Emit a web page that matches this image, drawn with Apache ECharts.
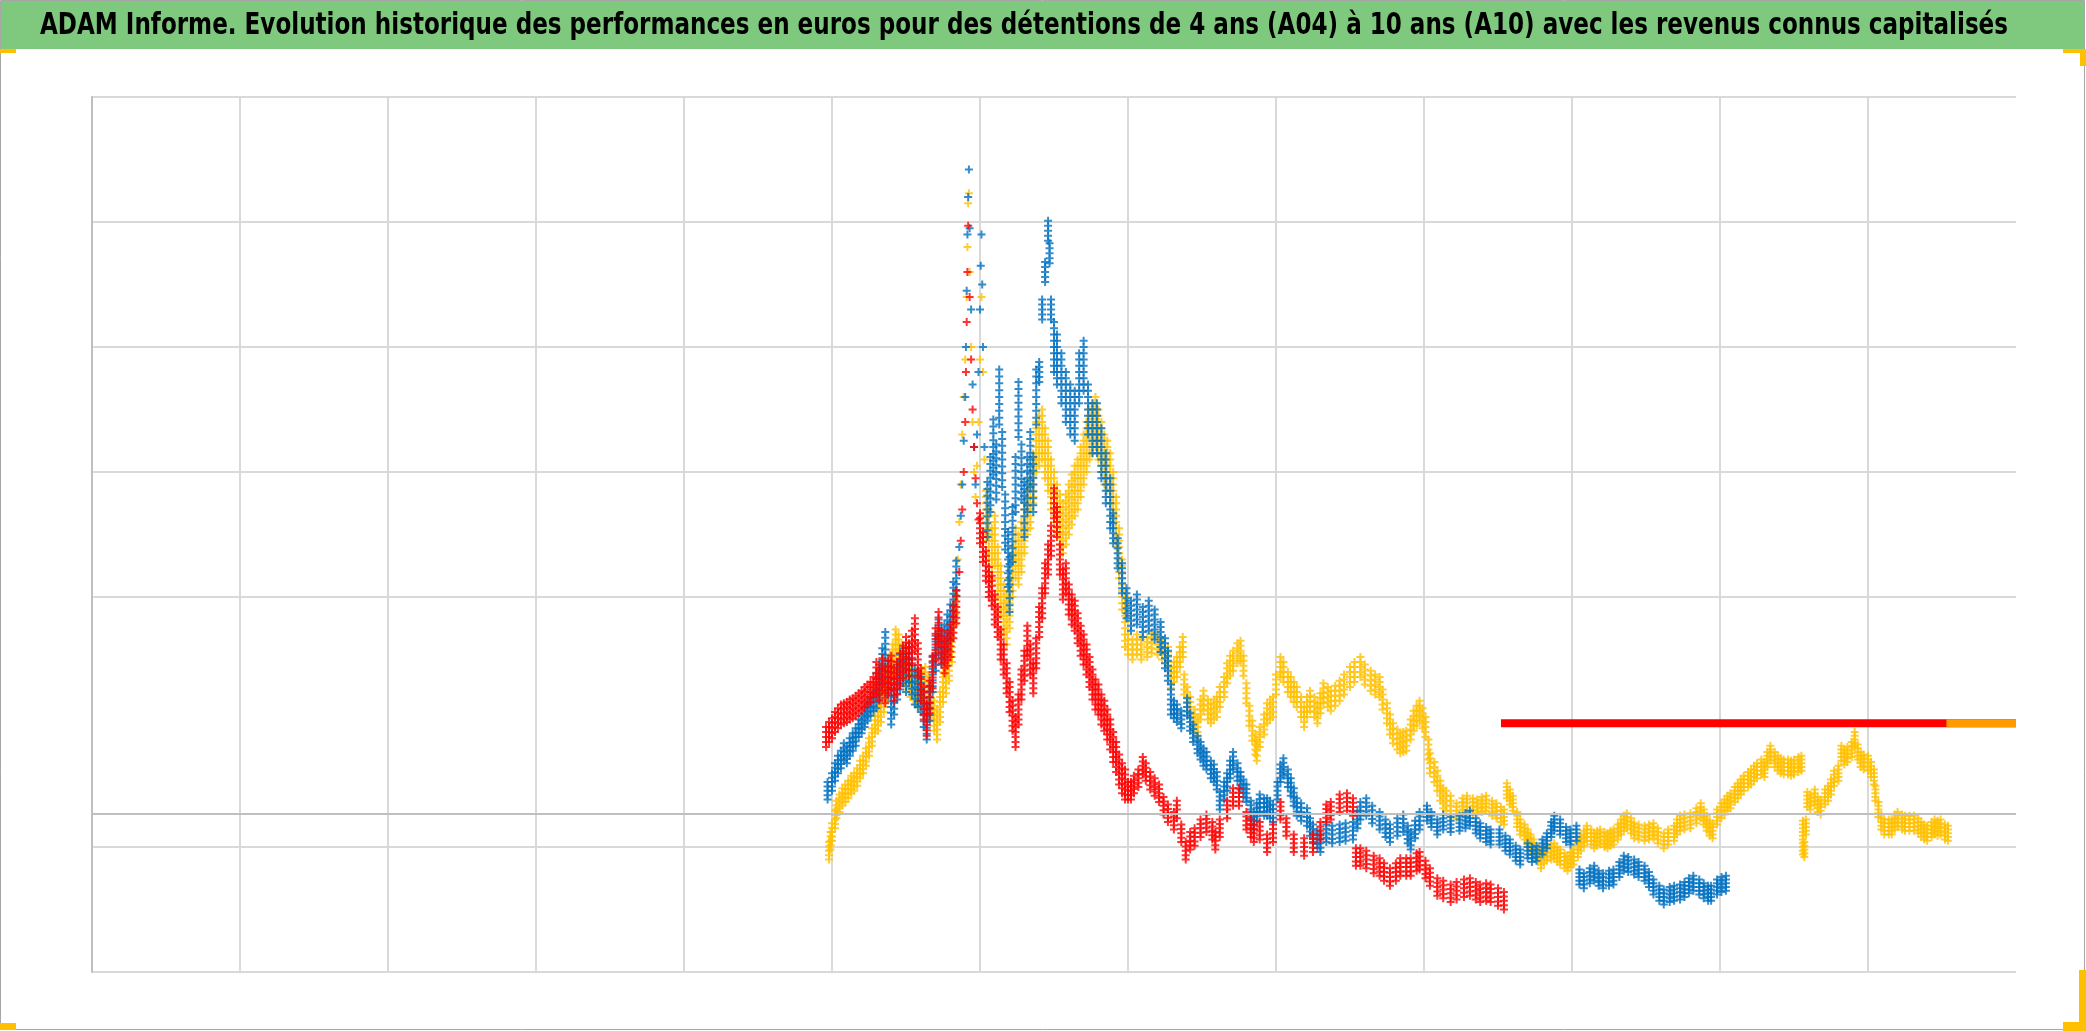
<!DOCTYPE html>
<html><head><meta charset="utf-8">
<script src="https://cdn.jsdelivr.net/npm/echarts@6/dist/echarts.min.js"></script>
<style>html,body{margin:0;padding:0;background:#fff;overflow:hidden}#c{width:2086px;height:1031px}</style>
</head><body><div id="c"></div>
<script>
// ---------- text ----------
const titleText = "ADAM Informe. Evolution historique des performances en euros pour des détentions de 4 ans (A04) à 10 ans (A10) avec les revenus connus capitalisés";

// ---------- axes (hidden labels; gridline values) ----------
const xMin = 0, xMax = 13, xInterval = 1;
const yMin = 0, yMax = 7, yInterval = 1;
const yGridHidden = [2];     // grid value with no line in the reference
const axisCross = 1.27;      // where the horizontal axis crosses

// ---------- data : blue series (centre of the band) ----------
const blueX = [4.97,5.00,5.02,5.04,5.06,5.08,5.10,5.12,5.14,5.16,5.18,5.20,5.22,5.24,5.26,5.28,5.30,5.32,5.34,5.36,5.38,5.40,5.42,5.44,5.46,5.48,5.50,5.52,5.54,5.56,5.58,5.60,5.62,5.64,5.66,5.68,5.70,5.72,5.74,5.76,5.78,5.80,5.82,5.84,5.86,5.87,5.88,5.89,5.90,5.905,5.91,5.915,5.92,5.925,5.93,5.94,5.95,5.96,5.97,5.98,5.99,6.00,6.005,6.01,6.015,6.02,6.03,6.05,6.07,6.09,6.11,6.13,6.15,6.17,6.19,6.20,6.22,6.24,6.26,6.28,6.30,6.32,6.34,6.36,6.38,6.40,6.42,6.44,6.46,6.47,6.48,6.50,6.52,6.55,6.58,6.61,6.64,6.67,6.70,6.73,6.76,6.79,6.82,6.85,6.88,6.90,6.93,6.96,6.99,7.02,7.06,7.10,7.14,7.18,7.22,7.25,7.27,7.29,7.31,7.33,7.36,7.40,7.42,7.44,7.47,7.49,7.51,7.53,7.56,7.58,7.60,7.62,7.65,7.67,7.69,7.71,7.74,7.76,7.78,7.80,7.83,7.85,7.87,7.89,7.92,7.94,7.96,7.98,8.01,8.03,8.05,8.08,8.10,8.12,8.14,8.17,8.21,8.23,8.25,8.28,8.30,8.34,8.38,8.43,8.47,8.52,8.55,8.57,8.61,8.65,8.70,8.74,8.77,8.82,8.86,8.89,8.91,8.94,8.97,9.02,9.05,9.09,9.13,9.18,9.24,9.28,9.31,9.35,9.38,9.42,9.45,9.51,9.55,9.58,9.62,9.65,9.70,9.73,9.76,9.80,9.83,9.86,9.88,9.92,9.96,9.99,10.03,10.05,10.08,10.12,10.15,10.18,10.21,10.25,10.28,10.32,10.35,10.38,10.42,10.45,10.49,10.52,10.55,10.59,10.62,10.66,10.69,10.73,10.76,10.79,10.82,10.86,10.89,10.92,10.94,10.98,11.01,11.04];
const blueY = [1.45,1.52,1.60,1.66,1.70,1.76,1.74,1.80,1.84,1.88,1.95,1.98,2.03,2.08,2.12,2.16,2.25,2.32,2.45,2.58,2.35,2.12,2.20,2.32,2.40,2.45,2.38,2.46,2.36,2.28,2.26,2.22,2.10,2.00,2.15,2.38,2.55,2.68,2.60,2.64,2.72,2.80,2.98,3.15,3.40,3.65,3.90,4.25,4.60,5.00,5.45,5.90,6.20,6.42,5.95,5.30,4.70,4.20,3.90,4.30,4.80,5.30,5.65,5.90,5.50,5.00,4.20,3.70,3.90,4.20,4.00,4.60,4.10,3.60,3.30,3.10,3.50,3.90,4.50,4.00,3.70,3.90,4.10,3.90,4.60,4.80,5.30,5.60,5.93,5.75,5.30,5.00,4.90,4.75,4.60,4.50,4.45,4.75,4.85,4.50,4.35,4.35,4.15,3.95,3.75,3.55,3.35,3.15,2.95,2.85,2.90,2.80,2.85,2.78,2.68,2.55,2.45,2.18,2.10,2.07,2.02,2.12,2.00,1.91,1.82,1.77,1.72,1.69,1.62,1.59,1.53,1.37,1.45,1.52,1.62,1.69,1.60,1.53,1.47,1.43,1.30,1.21,1.28,1.35,1.32,1.32,1.30,1.27,1.45,1.59,1.64,1.55,1.48,1.40,1.32,1.28,1.24,1.16,1.11,1.06,1.03,1.11,1.10,1.11,1.12,1.13,1.22,1.29,1.32,1.26,1.21,1.15,1.11,1.16,1.19,1.10,1.05,1.14,1.21,1.27,1.22,1.16,1.20,1.18,1.19,1.21,1.23,1.17,1.13,1.10,1.08,1.08,1.03,1.00,0.95,0.92,0.97,0.94,0.95,1.00,1.05,1.14,1.19,1.16,1.10,1.08,1.11,0.76,0.73,0.77,0.79,0.75,0.73,0.75,0.76,0.82,0.87,0.86,0.84,0.82,0.79,0.74,0.68,0.63,0.60,0.62,0.63,0.64,0.66,0.69,0.71,0.68,0.65,0.63,0.63,0.68,0.70,0.71];
// half-thickness of the blue band, read per x-range (from, halfWidth)
const blueSpreadFrom = [4.9, 5.30, 5.85, 6.04, 6.40, 6.50, 6.90, 7.30, 9.00];
const blueSpread     = [0.07, 0.14, 0.00, 0.22, 0.08, 0.20, 0.12, 0.07, 0.06];

// ---------- data : red series ----------
const redX = [4.96,4.98,5.00,5.02,5.04,5.06,5.08,5.10,5.12,5.14,5.16,5.18,5.20,5.22,5.24,5.26,5.28,5.30,5.32,5.34,5.36,5.38,5.40,5.42,5.44,5.46,5.48,5.50,5.52,5.54,5.56,5.58,5.60,5.62,5.64,5.66,5.68,5.70,5.72,5.74,5.76,5.78,5.80,5.82,5.84,5.86,5.87,5.88,5.89,5.90,5.905,5.91,5.915,5.92,5.93,5.94,5.95,5.96,5.97,5.98,5.99,6.00,6.02,6.04,6.06,6.08,6.10,6.12,6.14,6.16,6.18,6.20,6.22,6.24,6.26,6.28,6.30,6.32,6.34,6.36,6.38,6.40,6.42,6.44,6.46,6.48,6.50,6.52,6.54,6.56,6.58,6.60,6.62,6.64,6.66,6.68,6.70,6.72,6.74,6.76,6.78,6.80,6.82,6.84,6.86,6.88,6.90,6.92,6.94,6.96,6.98,7.00,7.02,7.04,7.07,7.10,7.12,7.15,7.18,7.21,7.24,7.27,7.31,7.33,7.36,7.39,7.42,7.45,7.49,7.53,7.57,7.59,7.62,7.67,7.71,7.75,7.80,7.83,7.85,7.89,7.94,7.98,8.03,8.07,8.12,8.19,8.25,8.30,8.34,8.37,8.43,8.48,8.52,8.54,8.57,8.61,8.66,8.70,8.73,8.77,8.81,8.84,8.88,8.91,8.95,8.97,9.01,9.04,9.09,9.13,9.18,9.22,9.27,9.31,9.35,9.38,9.42,9.45,9.50,9.54];
const redY = [1.88,1.92,1.95,2.00,2.03,2.06,2.07,2.08,2.10,2.11,2.13,2.15,2.17,2.20,2.22,2.24,2.28,2.35,2.30,2.38,2.28,2.36,2.40,2.30,2.35,2.42,2.48,2.55,2.50,2.60,2.70,2.50,2.30,2.15,2.02,2.20,2.40,2.62,2.75,2.60,2.52,2.58,2.65,2.80,2.92,3.20,3.45,3.70,4.00,4.40,4.80,5.20,5.60,5.97,5.40,4.90,4.50,4.20,3.95,3.75,3.62,3.55,3.40,3.25,3.12,3.05,2.90,2.80,2.62,2.50,2.35,2.20,2.05,1.92,2.10,2.30,2.45,2.65,2.50,2.35,2.55,2.80,2.95,3.15,3.30,3.45,3.75,3.60,3.30,3.10,3.15,2.98,2.90,2.85,2.75,2.65,2.58,2.50,2.40,2.30,2.22,2.18,2.10,2.05,1.98,1.90,1.80,1.72,1.62,1.55,1.50,1.45,1.45,1.50,1.55,1.65,1.60,1.53,1.48,1.43,1.33,1.27,1.21,1.30,1.11,0.97,1.05,1.08,1.15,1.19,1.13,1.05,1.15,1.30,1.40,1.40,1.21,1.15,1.11,1.13,1.03,1.11,1.29,1.16,1.03,1.00,1.03,1.13,1.27,1.29,1.35,1.36,1.32,0.92,0.92,0.90,0.86,0.84,0.80,0.76,0.80,0.84,0.84,0.84,0.88,0.89,0.82,0.76,0.68,0.66,0.63,0.65,0.67,0.68,0.65,0.63,0.64,0.63,0.60,0.57];
const redSpreadFrom = [4.9, 5.30, 5.85, 6.00, 7.00];
const redSpread     = [0.08, 0.13, 0.00, 0.12, 0.07];

// ---------- data : yellow series ----------
const yellowX = [4.98,4.99,5.00,5.02,5.03,5.05,5.07,5.09,5.11,5.13,5.15,5.17,5.19,5.21,5.23,5.25,5.27,5.29,5.31,5.33,5.35,5.37,5.39,5.41,5.43,5.45,5.47,5.49,5.51,5.53,5.55,5.57,5.59,5.61,5.63,5.65,5.67,5.69,5.71,5.73,5.75,5.77,5.79,5.81,5.83,5.85,5.86,5.87,5.88,5.89,5.90,5.91,5.915,5.92,5.925,5.93,5.94,5.95,5.96,5.97,5.98,5.99,6.00,6.01,6.02,6.03,6.04,6.06,6.08,6.10,6.12,6.14,6.16,6.18,6.20,6.22,6.24,6.26,6.28,6.30,6.32,6.34,6.36,6.38,6.40,6.42,6.44,6.46,6.48,6.50,6.52,6.54,6.56,6.58,6.60,6.62,6.64,6.66,6.68,6.70,6.72,6.74,6.76,6.78,6.80,6.82,6.84,6.86,6.88,6.90,6.92,6.94,6.96,6.98,7.00,7.03,7.06,7.09,7.13,7.16,7.20,7.23,7.27,7.29,7.31,7.33,7.35,7.37,7.38,7.40,7.42,7.45,7.47,7.49,7.51,7.54,7.56,7.58,7.60,7.62,7.65,7.67,7.69,7.71,7.74,7.76,7.78,7.80,7.82,7.84,7.86,7.87,7.89,7.92,7.94,7.96,7.98,8.00,8.03,8.05,8.08,8.10,8.12,8.14,8.17,8.19,8.21,8.23,8.26,8.28,8.30,8.32,8.35,8.37,8.40,8.43,8.46,8.50,8.53,8.57,8.60,8.64,8.67,8.70,8.72,8.75,8.77,8.79,8.82,8.84,8.86,8.88,8.91,8.93,8.95,8.97,8.99,9.01,9.03,9.04,9.07,9.09,9.11,9.13,9.15,9.18,9.22,9.26,9.29,9.33,9.36,9.39,9.42,9.46,9.49,9.52,9.54,9.56,9.58,9.60,9.63,9.65,9.68,9.70,9.72,9.74,9.77,9.79,9.81,9.83,9.86,9.88,9.90,9.92,9.95,9.97,9.99,10.01,10.04,10.06,10.08,10.10,10.13,10.15,10.17,10.19,10.22,10.24,10.26,10.28,10.31,10.33,10.35,10.37,10.40,10.42,10.45,10.49,10.52,10.55,10.58,10.62,10.65,10.69,10.71,10.73,10.76,10.80,10.84,10.87,10.89,10.91,10.93,10.95,10.98,11.01,11.03,11.05,11.07,11.10,11.12,11.14,11.16,11.19,11.21,11.23,11.25,11.28,11.30,11.32,11.34,11.37,11.39,11.41,11.43,11.46,11.48,11.50,11.53,11.55,11.56,11.56,11.57,11.58,11.59,11.61,11.64,11.66,11.68,11.71,11.73,11.75,11.77,11.80,11.82,11.84,11.86,11.89,11.91,11.93,11.95,11.97,12.00,12.02,12.04,12.05,12.07,12.09,12.11,12.14,12.16,12.18,12.20,12.23,12.25,12.28,12.31,12.34,12.36,12.38,12.40,12.43,12.45,12.47,12.49,12.52,12.54];
const yellowY = [0.97,1.05,1.12,1.22,1.30,1.35,1.40,1.43,1.46,1.50,1.52,1.56,1.62,1.66,1.72,1.80,1.88,1.98,2.05,2.12,2.20,2.30,2.42,2.50,2.62,2.58,2.50,2.45,2.38,2.32,2.30,2.26,2.24,2.28,2.32,2.25,2.15,2.05,1.98,2.12,2.28,2.35,2.45,2.60,2.90,3.30,3.60,3.90,4.30,4.60,4.90,5.40,5.80,6.15,6.23,5.60,5.00,4.40,4.00,3.80,4.05,4.40,4.90,5.40,4.80,4.10,3.65,3.50,3.35,3.45,3.20,3.05,2.90,2.82,2.95,3.20,3.35,3.30,3.40,3.55,3.70,3.75,3.95,4.20,4.25,4.30,4.15,4.05,3.90,3.80,3.70,3.62,3.55,3.62,3.70,3.78,3.85,3.90,4.00,4.10,4.20,4.30,4.35,4.40,4.30,4.20,4.10,4.05,3.95,3.80,3.60,3.35,3.10,2.80,2.62,2.58,2.62,2.58,2.60,2.63,2.62,2.58,2.52,2.35,2.40,2.44,2.52,2.60,2.30,2.20,2.12,2.02,1.96,2.10,2.17,2.10,2.07,2.10,2.12,2.20,2.28,2.39,2.45,2.49,2.55,2.57,2.45,2.23,2.05,1.93,1.82,1.77,1.88,1.98,2.07,2.10,2.12,2.30,2.44,2.40,2.32,2.28,2.24,2.20,2.12,2.04,2.12,2.17,2.12,2.07,2.15,2.23,2.20,2.17,2.21,2.25,2.30,2.36,2.40,2.44,2.38,2.33,2.30,2.28,2.18,2.07,1.98,1.91,1.86,1.83,1.84,1.85,1.94,2.01,2.05,2.09,2.03,1.96,1.78,1.67,1.60,1.53,1.45,1.39,1.37,1.33,1.29,1.33,1.35,1.33,1.32,1.34,1.35,1.31,1.29,1.26,1.24,1.45,1.40,1.35,1.22,1.16,1.12,1.08,1.04,1.00,0.94,0.89,0.93,0.95,0.96,0.97,0.94,0.92,0.89,0.87,0.90,0.92,0.98,1.03,1.07,1.11,1.08,1.05,1.07,1.08,1.06,1.05,1.07,1.08,1.12,1.16,1.19,1.21,1.17,1.13,1.12,1.11,1.12,1.13,1.09,1.05,1.08,1.11,1.16,1.19,1.20,1.21,1.25,1.29,1.24,1.19,1.15,1.13,1.24,1.29,1.32,1.35,1.37,1.42,1.45,1.48,1.51,1.54,1.56,1.59,1.61,1.64,1.62,1.70,1.75,1.70,1.67,1.65,1.64,1.64,1.63,1.64,1.66,1.67,1.15,1.00,0.98,1.16,1.38,1.36,1.40,1.34,1.32,1.40,1.43,1.48,1.55,1.59,1.75,1.72,1.74,1.78,1.86,1.76,1.70,1.68,1.67,1.62,1.56,1.43,1.30,1.20,1.16,1.16,1.16,1.20,1.22,1.20,1.19,1.19,1.19,1.17,1.14,1.12,1.11,1.14,1.16,1.15,1.16,1.12,1.11];
const yellowSpreadFrom = [4.9, 5.30, 5.85, 6.04, 7.00, 9.20];
const yellowSpread     = [0.07, 0.12, 0.00, 0.20, 0.08, 0.06];

// ---------- data : flat end segments ----------
const redFlatX = [9.52, 13.0];
const redFlatY = [1.99, 1.99];
const yellowFlatX = [12.53, 13.0];
const yellowFlatY = [1.99, 1.99];

// ---------- colours ----------
const cBlue = '#0070C0', cRed = '#FF0000', cYellow = '#FFC000', cYellowOnRed = '#FF9A00';
const plus = 'path://M3,0H5V3H8V5H5V8H3V5H0V3H3Z';

function zip(xs, ys) { return xs.map((x, i) => [x, ys[i]]); }
// each read point is drawn at the centre and across the read band thickness
function banded(xs, ys, from, spread) {
  const out = [];
  xs.forEach((x, i) => {
    let s = 0;
    for (let k = 0; k < from.length; k++) if (x >= from[k]) s = spread[k];
    const n = Math.ceil(s / 0.055);
    for (let j = -n; j <= n; j++) out.push([x, ys[i] + (n ? s * j / n : 0)]);
  });
  return out;
}

// title font fitted to the reference width
const titleFont = '"Liberation Sans Narrow", "DejaVu Sans Condensed", "Liberation Sans", sans-serif';
const titleLeft = 40, titleWidth = 1968;
const cv = document.createElement('canvas').getContext('2d');
cv.font = 'bold 31px ' + titleFont;
const titleScaleX = titleWidth / cv.measureText(titleText).width;

const gridColor = '#d9d9d9';
const ySplitColors = [];
for (let v = yMin; v <= yMax; v += yInterval) ySplitColors.push(yGridHidden.includes(v) ? 'rgba(0,0,0,0)' : gridColor);

const chart = echarts.init(document.getElementById('c'), null, { renderer: 'canvas' });
chart.setOption({
  animation: false,
  backgroundColor: '#ffffff',
  grid: { left: 92, top: 97, width: 1924, height: 875, containLabel: false },
  xAxis: {
    type: 'value', min: xMin, max: xMax, interval: xInterval,
    axisLabel: { show: false }, axisTick: { show: false }, axisLine: { show: false },
    splitLine: { show: true, showMaxLine: false, lineStyle: { color: gridColor, width: 2 } }
  },
  yAxis: {
    type: 'value', min: yMin, max: yMax, interval: yInterval,
    axisLabel: { show: false }, axisTick: { show: false },
    axisLine: { show: true, lineStyle: { color: '#bfbfbf', width: 2 } },
    splitLine: { show: true, lineStyle: { color: ySplitColors, width: 2 } }
  },
  graphic: [
    { type: 'rect', shape: { x: 0.5, y: 0.5, width: 2084, height: 1029 }, style: { fill: 'none', stroke: '#a6a6a6', lineWidth: 1 }, z: 100, silent: true },
    { type: 'rect', shape: { x: 1, y: 1, width: 2084, height: 48 }, style: { fill: '#7ec97e' }, z: 90, silent: true },
    { type: 'text', x: titleLeft, y: 26, scaleX: titleScaleX, scaleY: 1,
      style: { text: titleText, font: 'bold 31px ' + titleFont, fill: '#000000', verticalAlign: 'middle', align: 'left' }, z: 95, silent: true },
    // Excel selection handles
    { type: 'rect', shape: { x: 0, y: 49, width: 16, height: 4 }, style: { fill: cYellow }, z: 101, silent: true },
    { type: 'rect', shape: { x: 0, y: 1023, width: 16, height: 7 }, style: { fill: cYellow }, z: 101, silent: true },
    { type: 'rect', shape: { x: 2063, y: 49, width: 23, height: 4 }, style: { fill: cYellow }, z: 101, silent: true },
    { type: 'rect', shape: { x: 2080, y: 49, width: 6, height: 17 }, style: { fill: cYellow }, z: 101, silent: true },
    { type: 'rect', shape: { x: 2079, y: 970, width: 7, height: 61 }, style: { fill: cYellow }, z: 101, silent: true },
    { type: 'rect', shape: { x: 2063, y: 1022, width: 23, height: 9 }, style: { fill: cYellow }, z: 101, silent: true }
  ],
  series: [
    { type: 'line', data: [], z: 1, silent: true,
      markLine: { silent: true, symbol: 'none', label: { show: false }, animation: false,
        lineStyle: { color: '#bfbfbf', width: 2, type: 'solid' }, data: [{ yAxis: axisCross }] } },
    { name: 'A04', type: 'scatter', data: banded(yellowX, yellowY, yellowSpreadFrom, yellowSpread), symbol: plus, symbolSize: 8, itemStyle: { color: cYellow }, z: 2, large: false },
    { name: 'A07', type: 'scatter', data: banded(blueX, blueY, blueSpreadFrom, blueSpread), symbol: plus, symbolSize: 8, itemStyle: { color: cBlue }, z: 3, large: false },
    { name: 'A10', type: 'scatter', data: banded(redX, redY, redSpreadFrom, redSpread), symbol: plus, symbolSize: 8, itemStyle: { color: cRed }, z: 4, large: false },
    { name: 'A10 fin', type: 'line', data: zip(redFlatX, redFlatY), symbol: 'none', lineStyle: { color: cRed, width: 8 }, z: 4 },
    { name: 'A04 fin', type: 'line', data: zip(yellowFlatX, yellowFlatY), symbol: 'none', lineStyle: { color: cYellowOnRed, width: 8 }, z: 5 }
  ]
});
</script>
</body></html>
